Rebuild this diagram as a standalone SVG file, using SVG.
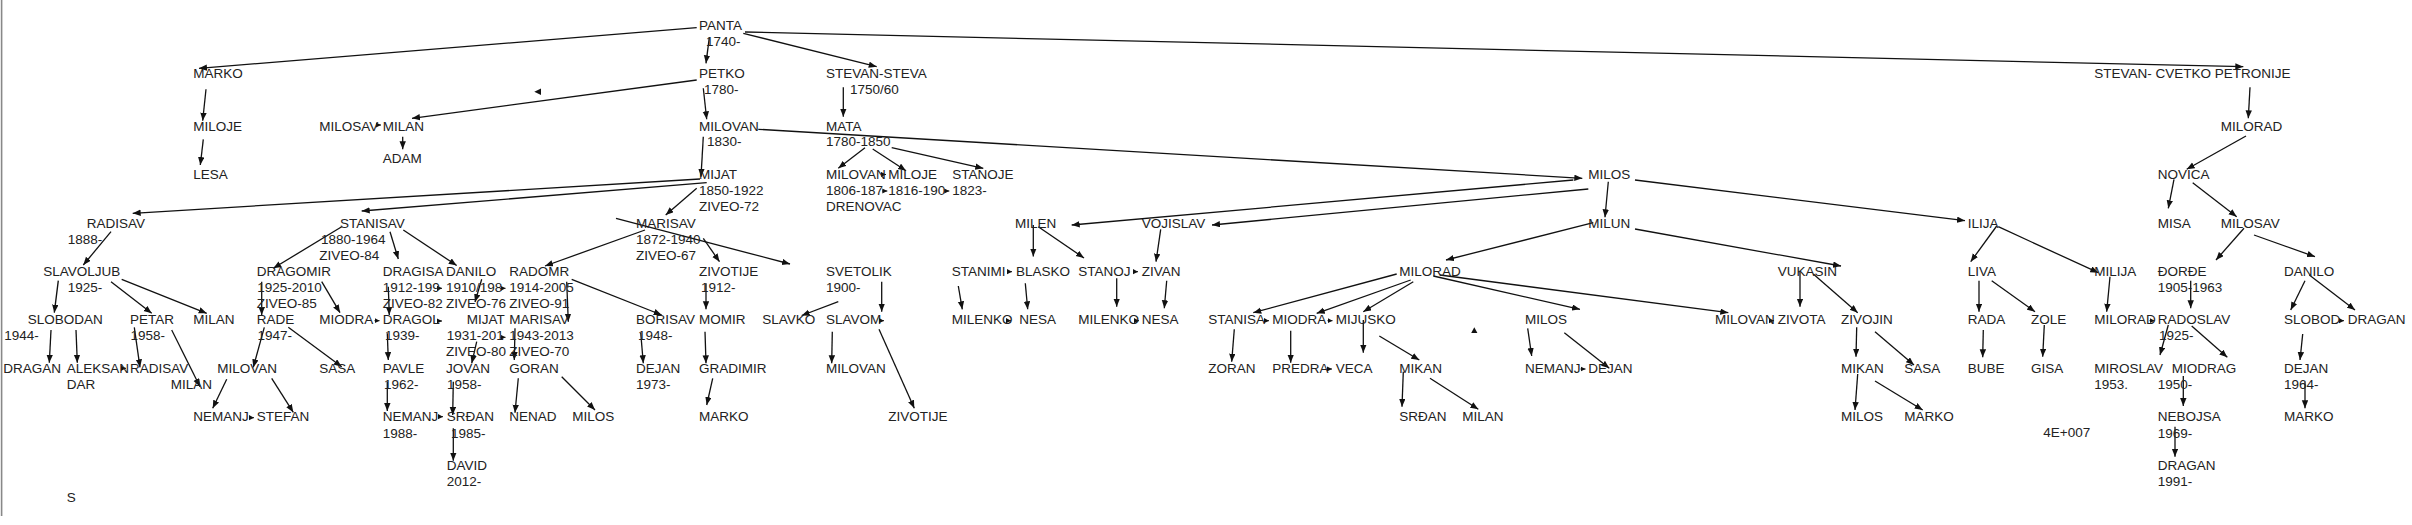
<svg xmlns="http://www.w3.org/2000/svg" width="2412" height="525" viewBox="0 0 2412 525">
<style>
text{font-family:"Liberation Sans",Arial,sans-serif;font-size:13.5px;fill:#222}
.c path,.c line{stroke:#111;stroke-width:1.3;fill:none}
.c path{marker-end:url(#a)}
.c line{stroke-width:1;marker-end:url(#sa)}
.h{fill:#111}
</style>
<defs>
<marker id="a" markerUnits="userSpaceOnUse" markerWidth="9" markerHeight="7" refX="8" refY="3.2" orient="auto"><path d="M0,0 L8,3.2 L0,6.4 z" fill="#111"/></marker>
<marker id="sa" markerUnits="userSpaceOnUse" markerWidth="6" markerHeight="6" refX="5" refY="2.6" orient="auto"><path d="M0,0 L5,2.6 L0,5.2 z" fill="#111"/></marker>
</defs>
<rect width="2412" height="525" fill="#fff"/>
<line x1="1.6" y1="0" x2="1.6" y2="516" stroke="#888" stroke-width="1.6"/>
<g class="c" id="connectors">
<path d="M696.7,27.7 L199,68.3"/>
<path d="M709.3,37.3 L706,63.3"/>
<path d="M743.3,33.3 L876.7,66.7"/>
<path d="M745,32 L2243.3,66.7"/>
<path d="M206,89.3 L202.7,120.7"/>
<path d="M203.3,139.3 L200.3,165"/>
<path d="M696.7,80 L412,118.3"/>
<line x1="376" y1="125" x2="381" y2="125"/>
<path d="M402.7,136.7 L402.7,149.3"/>
<path d="M703.3,88.3 L706.7,119.3"/>
<path d="M703.3,136.7 L701,176.7"/>
<path d="M758.3,129.3 L1582.3,178.3"/>
<path d="M843.3,87.3 L843.3,116.7"/>
<path d="M865,147.7 L838.3,168.3"/>
<path d="M872.7,149 L906,170.7"/>
<path d="M891.7,147.7 L983.3,168.3"/>
<line x1="881" y1="174.5" x2="886" y2="174.5"/>
<line x1="882.3" y1="191" x2="887.3" y2="191"/>
<line x1="944.3" y1="191" x2="949.3" y2="191"/>
<path d="M700,179 L132.7,213.3"/>
<path d="M706.7,182.7 L361.7,211"/>
<path d="M696.7,188.3 L665.7,215"/>
<path d="M645,230 L545,266"/>
<path d="M616,218.3 L790,264"/>
<path d="M703.3,238.3 L719.5,261.7"/>
<path d="M111,231.7 L83.3,265"/>
<path d="M341.7,226.7 L273.3,268.3"/>
<path d="M390,231.7 L398.3,259"/>
<path d="M403.3,230 L456.7,265.5"/>
<path d="M58.3,280.7 L54.3,312.7"/>
<path d="M111,281.7 L151.7,313.3"/>
<path d="M121.7,279.3 L206.7,313.3"/>
<path d="M51,330 L49.3,362.7"/>
<path d="M76,330 L77.3,362.7"/>
<line x1="121" y1="368.3" x2="126" y2="368.3"/>
<path d="M134.3,327.3 L140,367.3"/>
<path d="M171.7,330 L200,386.7"/>
<path d="M261.7,281.7 L261.7,315"/>
<path d="M321.7,281.7 L340,312.7"/>
<path d="M264.3,327.3 L253.3,367.3"/>
<path d="M288.3,327.3 L341.7,366.7"/>
<path d="M226.7,379.3 L212.7,408.3"/>
<path d="M271.7,378.3 L293.3,412.3"/>
<line x1="249" y1="417.7" x2="254" y2="417.7"/>
<line x1="374.5" y1="320.7" x2="379.5" y2="320.7"/>
<path d="M388.3,286.7 L389.3,315"/>
<path d="M387.3,333.3 L388.3,360"/>
<path d="M387.3,381.7 L387.3,411"/>
<line x1="437" y1="288.3" x2="442" y2="288.3"/>
<line x1="500.5" y1="288.3" x2="505.5" y2="288.3"/>
<path d="M481.7,279.3 L475,302"/>
<line x1="437" y1="321" x2="442" y2="321"/>
<line x1="500.5" y1="337.3" x2="505.5" y2="337.3"/>
<path d="M566.7,281.7 L568.3,321.7"/>
<path d="M571.7,279.3 L661.7,315"/>
<path d="M515,328.3 L514.3,360"/>
<path d="M476.7,341.7 L471.7,363.3"/>
<path d="M453.3,381.7 L452.7,415"/>
<path d="M453.3,428.3 L453.3,460.7"/>
<line x1="438" y1="416.7" x2="443" y2="416.7"/>
<path d="M518.3,378.3 L515,412.7"/>
<path d="M561.7,376.7 L595,410"/>
<path d="M640.7,332.7 L643.3,363.3"/>
<path d="M706,283.3 L706,309.3"/>
<path d="M705,331.7 L706,363.3"/>
<path d="M712.7,378.3 L706.7,405"/>
<path d="M838.3,301.7 L801.7,315.5"/>
<path d="M881.7,281.7 L881.7,311.7"/>
<line x1="879" y1="320.7" x2="884" y2="320.7"/>
<path d="M832.3,331.7 L831.7,363.3"/>
<path d="M879,329.3 L914.3,408.3"/>
<path d="M1573.3,180 L1071.7,225"/>
<path d="M1588.3,189 L1212,225"/>
<path d="M1033.3,225 L1033.3,256.5"/>
<path d="M1038.3,226.7 L1084,258"/>
<path d="M1160.7,229.3 L1156,261.7"/>
<line x1="1007" y1="271.7" x2="1012" y2="271.7"/>
<line x1="1133" y1="271.7" x2="1138" y2="271.7"/>
<path d="M958.3,286 L962.3,309.3"/>
<path d="M1025.3,283.3 L1027.7,309.3"/>
<path d="M1116.7,278.3 L1116.7,306.7"/>
<path d="M1166.7,280.7 L1164.3,308.3"/>
<line x1="1006" y1="320.7" x2="1011" y2="320.7"/>
<line x1="1134" y1="320.7" x2="1139" y2="320.7"/>
<path d="M1608.3,181.7 L1605,217.3"/>
<path d="M1635,180 L1965,220.7"/>
<path d="M1593.3,222.7 L1446,260"/>
<path d="M1635,229 L1841,266"/>
<path d="M1396.7,274 L1253.3,312.7"/>
<path d="M1410.7,280 L1316.7,313.3"/>
<path d="M1413.3,281.7 L1363.3,311.7"/>
<path d="M1433.3,276 L1580,309.3"/>
<path d="M1440,275 L1728.3,312.7"/>
<line x1="1264" y1="320.7" x2="1269" y2="320.7"/>
<line x1="1327.5" y1="320.7" x2="1332.5" y2="320.7"/>
<path d="M1234.3,329.3 L1231.7,361.7"/>
<path d="M1290.7,330.7 L1290.7,362.7"/>
<path d="M1363.3,320 L1363.3,352.7"/>
<path d="M1379.3,336 L1419.3,360"/>
<line x1="1327" y1="369" x2="1332" y2="369"/>
<path d="M1403.3,371.7 L1402,406.7"/>
<path d="M1430,378.3 L1478.3,409.3"/>
<path d="M1527.7,328.3 L1531.7,356"/>
<path d="M1564.3,332.7 L1609.3,368.3"/>
<line x1="1580.5" y1="369" x2="1585.5" y2="369"/>
<line x1="1769" y1="320.7" x2="1774" y2="320.7"/>
<path d="M1800,271.7 L1800,306.7"/>
<path d="M1813.3,274 L1857.7,312.7"/>
<path d="M1856.7,327.3 L1856,356.7"/>
<path d="M1875,331.7 L1914,365"/>
<path d="M1857.7,374 L1855,410"/>
<path d="M1875,381 L1922.7,410"/>
<path d="M1996.7,226 L1970.7,261.7"/>
<path d="M1998.3,226.7 L2098.3,272.7"/>
<path d="M1979,280.7 L1979,311.7"/>
<path d="M1991.7,280.7 L2035,311.7"/>
<path d="M1983.3,330 L1982.7,357.3"/>
<path d="M2044.3,325 L2042.7,356.7"/>
<path d="M2110,276.7 L2106.7,311.7"/>
<line x1="2149.5" y1="320.7" x2="2154.5" y2="320.7"/>
<path d="M2250,87.3 L2248.3,118.3"/>
<path d="M2246,136 L2186.7,169.3"/>
<path d="M2174,179.3 L2168.3,208.3"/>
<path d="M2192.7,182.7 L2236.7,216.7"/>
<path d="M2244,228.3 L2216,260"/>
<path d="M2254,235 L2315,256.7"/>
<path d="M2190.7,280.7 L2190.7,308.3"/>
<path d="M2168.3,325 L2160,355"/>
<path d="M2191.7,326 L2227.3,357.3"/>
<path d="M2183.3,376 L2183.3,406"/>
<path d="M2175,426.7 L2175,456.7"/>
<path d="M2305,280.7 L2290.7,310"/>
<path d="M2309.3,275 L2355,310"/>
<line x1="2339" y1="320.7" x2="2344" y2="320.7"/>
<path d="M2302.7,334 L2300,360"/>
<path d="M2305,381.7 L2305,408.3"/>
<polygon class="h" points="534.3,91.7 541,88.4 541,95"/>
<polygon class="h" points="1474.3,327.3 1471.2,333 1477.4,333"/>
</g>
<g id="n-panta"><text x="699" y="30">PANTA</text><text x="706" y="46">1740-</text></g>
<g id="n-marko1"><text x="193.3" y="77.5">MARKO</text></g>
<g id="n-petko"><text x="699" y="77.5">PETKO</text><text x="704" y="94">1780-</text></g>
<g id="n-stevan-steva"><text x="826" y="77.5">STEVAN-STEVA</text><text x="850" y="94">1750/60</text></g>
<g id="n-stevan-cvetko"><text x="2094.3" y="77.5">STEVAN- CVETKO PETRONIJE</text></g>
<g id="n-miloje1"><text x="193.3" y="130.7">MILOJE</text></g>
<g id="n-milosav1"><text x="319.3" y="130.7">MILOSAV</text></g>
<g id="n-milan1"><text x="382.7" y="130.7">MILAN</text></g>
<g id="n-adam"><text x="382.7" y="162.7">ADAM</text></g>
<g id="n-milovan1"><text x="699" y="130.7">MILOVAN</text><text x="707" y="146">1830-</text></g>
<g id="n-mata"><text x="826" y="130.7">MATA</text><text x="826" y="146">1780-1850</text></g>
<g id="n-milorad-r"><text x="2220.7" y="130.7">MILORAD</text></g>
<g id="n-lesa"><text x="193.3" y="179">LESA</text></g>
<g id="n-mijat1"><text x="699" y="179">MIJAT</text><text x="699" y="195">1850-1922</text><text x="699" y="211">ZIVEO-72</text></g>
<g id="n-milovan-m"><text x="826" y="179">MILOVAN</text><text x="826" y="195">1806-187</text><text x="826" y="211">DRENOVAC</text></g>
<g id="n-miloje-m"><text x="888.3" y="179">MILOJE</text><text x="888.3" y="195">1816-190</text></g>
<g id="n-stanoje-m"><text x="952.3" y="179">STANOJE</text><text x="952.3" y="195">1823-</text></g>
<g id="n-milos1"><text x="1588.3" y="179">MILOS</text></g>
<g id="n-novica"><text x="2157.7" y="179">NOVICA</text></g>
<g id="n-radisav1"><text x="86.7" y="227.7">RADISAV</text><text x="67.7" y="243.8">1888-</text></g>
<g id="n-stanisav1"><text x="340" y="227.7">STANISAV</text><text x="321" y="243.8">1880-1964</text><text x="319.3" y="259.8">ZIVEO-84</text></g>
<g id="n-marisav1"><text x="636" y="227.7">MARISAV</text><text x="636" y="243.8">1872-1940</text><text x="636" y="259.8">ZIVEO-67</text></g>
<g id="n-milen"><text x="1015" y="227.7">MILEN</text></g>
<g id="n-vojislav"><text x="1141.7" y="227.7">VOJISLAV</text></g>
<g id="n-milun"><text x="1588.3" y="227.7">MILUN</text></g>
<g id="n-ilija"><text x="1967.7" y="227.7">ILIJA</text></g>
<g id="n-misa"><text x="2157.7" y="227.7">MISA</text></g>
<g id="n-milosav-r"><text x="2220.7" y="227.7">MILOSAV</text></g>
<g id="n-slavoljub"><text x="43.3" y="276">SLAVOLJUB</text><text x="67.7" y="291.7">1925-</text></g>
<g id="n-dragomir"><text x="256.7" y="276">DRAGOMIR</text><text x="257.3" y="291.7">1925-2010</text><text x="256.7" y="307.7">ZIVEO-85</text></g>
<g id="n-dragisa"><text x="382.7" y="276">DRAGISA</text><text x="382.7" y="291.7">1912-199</text><text x="382.7" y="307.7">ZIVEO-82</text></g>
<g id="n-danilo1"><text x="446" y="276">DANILO</text><text x="446" y="291.7">1910/198</text><text x="446" y="307.7">ZIVEO-76</text></g>
<g id="n-radomr"><text x="509.3" y="276">RADOMR</text><text x="509.3" y="291.7">1914-2005</text><text x="509.3" y="307.7">ZIVEO-91</text></g>
<g id="n-zivotije1"><text x="699" y="276">ZIVOTIJE</text><text x="701" y="291.7">1912-</text></g>
<g id="n-svetolik"><text x="826" y="276">SVETOLIK</text><text x="826" y="291.7">1900-</text></g>
<g id="n-stanimi"><text x="951.7" y="276">STANIMI</text></g>
<g id="n-blasko"><text x="1016" y="276">BLASKO</text></g>
<g id="n-stanoj"><text x="1078.3" y="276">STANOJ</text></g>
<g id="n-zivan"><text x="1141.7" y="276">ZIVAN</text></g>
<g id="n-milorad-m"><text x="1399.3" y="276">MILORAD</text></g>
<g id="n-vukasin"><text x="1777.7" y="276">VUKASIN</text></g>
<g id="n-liva"><text x="1967.7" y="276">LIVA</text></g>
<g id="n-milija"><text x="2094.3" y="276">MILIJA</text></g>
<g id="n-djordje"><text x="2157.7" y="276">ĐORĐE</text><text x="2157.7" y="291.7">1905-1963</text></g>
<g id="n-danilo-r"><text x="2284" y="276">DANILO</text></g>
<g id="n-slobodan1"><text x="27.7" y="324.3">SLOBODAN</text><text x="4.3" y="340.3">1944-</text></g>
<g id="n-petar"><text x="130" y="324.3">PETAR</text><text x="130.5" y="340.3">1958-</text></g>
<g id="n-milan2"><text x="193.3" y="324.3">MILAN</text></g>
<g id="n-rade"><text x="256.7" y="324.3">RADE</text><text x="257.5" y="340.3">1947-</text></g>
<g id="n-miodra1"><text x="319.3" y="324.3">MIODRA</text></g>
<g id="n-dragol"><text x="382.7" y="324.3">DRAGOL</text><text x="385" y="340.3">1939-</text></g>
<g id="n-mijat2"><text x="466.7" y="324.3">MIJAT</text><text x="446.7" y="340.3">1931-201</text><text x="446" y="356.3">ZIVEO-80</text></g>
<g id="n-marisav2"><text x="509.3" y="324.3">MARISAV</text><text x="509.3" y="340.3">1943-2013</text><text x="509.3" y="356.3">ZIVEO-70</text></g>
<g id="n-borisav"><text x="636" y="324.3">BORISAV</text><text x="638" y="340.3">1948-</text></g>
<g id="n-momir"><text x="699" y="324.3">MOMIR</text></g>
<g id="n-slavko"><text x="762.3" y="324.3">SLAVKO</text></g>
<g id="n-slavom"><text x="826" y="324.3">SLAVOM</text></g>
<g id="n-milenko1"><text x="951.7" y="324.3">MILENKO</text></g>
<g id="n-nesa1"><text x="1019.3" y="324.3">NESA</text></g>
<g id="n-milenko2"><text x="1078.3" y="324.3">MILENKO</text></g>
<g id="n-nesa2"><text x="1141.7" y="324.3">NESA</text></g>
<g id="n-stanisa"><text x="1208.3" y="324.3">STANISA</text></g>
<g id="n-miodra2"><text x="1272.3" y="324.3">MIODRA</text></g>
<g id="n-mijusko"><text x="1335.7" y="324.3">MIJUSKO</text></g>
<g id="n-milos2"><text x="1525" y="324.3">MILOS</text></g>
<g id="n-milovan-r"><text x="1715" y="324.3">MILOVAN</text></g>
<g id="n-zivota"><text x="1777.7" y="324.3">ZIVOTA</text></g>
<g id="n-zivojin"><text x="1841" y="324.3">ZIVOJIN</text></g>
<g id="n-rada"><text x="1967.7" y="324.3">RADA</text></g>
<g id="n-zole"><text x="2031" y="324.3">ZOLE</text></g>
<g id="n-milorad-r2"><text x="2094.3" y="324.3">MILORAD</text></g>
<g id="n-radoslav"><text x="2157.7" y="324.3">RADOSLAV</text><text x="2159" y="340.3">1925-</text></g>
<g id="n-slobod"><text x="2284" y="324.3">SLOBOD</text></g>
<g id="n-dragan-r"><text x="2347.7" y="324.3">DRAGAN</text></g>
<g id="n-dragan1"><text x="3.3" y="372.7">DRAGAN</text></g>
<g id="n-aleksan"><text x="66.7" y="372.7">ALEKSAN</text><text x="66.7" y="389">DAR</text></g>
<g id="n-radisav2"><text x="130" y="372.7">RADISAV</text></g>
<g id="n-milan3"><text x="170.7" y="389">MILAN</text></g>
<g id="n-milovan2"><text x="217.3" y="372.7">MILOVAN</text></g>
<g id="n-sasa1"><text x="319.3" y="372.7">SASA</text></g>
<g id="n-pavle"><text x="382.7" y="372.7">PAVLE</text><text x="384" y="389">1962-</text></g>
<g id="n-jovan"><text x="446" y="372.7">JOVAN</text><text x="447" y="389">1958-</text></g>
<g id="n-goran"><text x="509.3" y="372.7">GORAN</text></g>
<g id="n-dejan1"><text x="636" y="372.7">DEJAN</text><text x="636" y="389">1973-</text></g>
<g id="n-gradimir"><text x="699" y="372.7">GRADIMIR</text></g>
<g id="n-milovan3"><text x="826" y="372.7">MILOVAN</text></g>
<g id="n-zoran"><text x="1208.3" y="372.7">ZORAN</text></g>
<g id="n-predra"><text x="1272.3" y="372.7">PREDRA</text></g>
<g id="n-veca"><text x="1335.7" y="372.7">VECA</text></g>
<g id="n-mikan1"><text x="1399.3" y="372.7">MIKAN</text></g>
<g id="n-nemanj3"><text x="1525" y="372.7">NEMANJ</text></g>
<g id="n-dejan2"><text x="1588.3" y="372.7">DEJAN</text></g>
<g id="n-mikan2"><text x="1841" y="372.7">MIKAN</text></g>
<g id="n-sasa2"><text x="1904.3" y="372.7">SASA</text></g>
<g id="n-bube"><text x="1967.7" y="372.7">BUBE</text></g>
<g id="n-gisa"><text x="2031" y="372.7">GISA</text></g>
<g id="n-miroslav"><text x="2094.3" y="372.7">MIROSLAV</text><text x="2094.3" y="389">1953.</text></g>
<g id="n-miodrag"><text x="2171.7" y="372.7">MIODRAG</text><text x="2157.7" y="389">1950-</text></g>
<g id="n-dejan3"><text x="2284" y="372.7">DEJAN</text><text x="2284" y="389">1964-</text></g>
<g id="n-nemanj1"><text x="193.3" y="421.3">NEMANJ</text></g>
<g id="n-stefan"><text x="256.7" y="421.3">STEFAN</text></g>
<g id="n-nemanj2"><text x="382.7" y="421.3">NEMANJ</text><text x="382.7" y="437.7">1988-</text></g>
<g id="n-srdjan1"><text x="446.7" y="421.3">SRĐAN</text><text x="451" y="437.7">1985-</text></g>
<g id="n-nenad"><text x="509.3" y="421.3">NENAD</text></g>
<g id="n-milos3"><text x="572.3" y="421.3">MILOS</text></g>
<g id="n-marko2"><text x="699" y="421.3">MARKO</text></g>
<g id="n-zivotije2"><text x="888.3" y="421.3">ZIVOTIJE</text></g>
<g id="n-srdjan2"><text x="1399.3" y="421.3">SRĐAN</text></g>
<g id="n-milan4"><text x="1462.3" y="421.3">MILAN</text></g>
<g id="n-milos4"><text x="1841" y="421.3">MILOS</text></g>
<g id="n-marko3"><text x="1904.3" y="421.3">MARKO</text></g>
<g id="n-nebojsa"><text x="2157.7" y="421.3">NEBOJSA</text><text x="2157.7" y="437.7">1969-</text></g>
<g id="n-marko4"><text x="2284" y="421.3">MARKO</text></g>
<g id="n-david"><text x="446.7" y="470">DAVID</text><text x="446.7" y="486">2012-</text></g>
<g id="n-dragan3"><text x="2157.7" y="470">DRAGAN</text><text x="2157.7" y="486">1991-</text></g>
<g id="n-4e007"><text x="2043.3" y="437">4E+007</text></g>
<g id="n-s"><text x="66.7" y="501.7">S</text></g>
</svg>
